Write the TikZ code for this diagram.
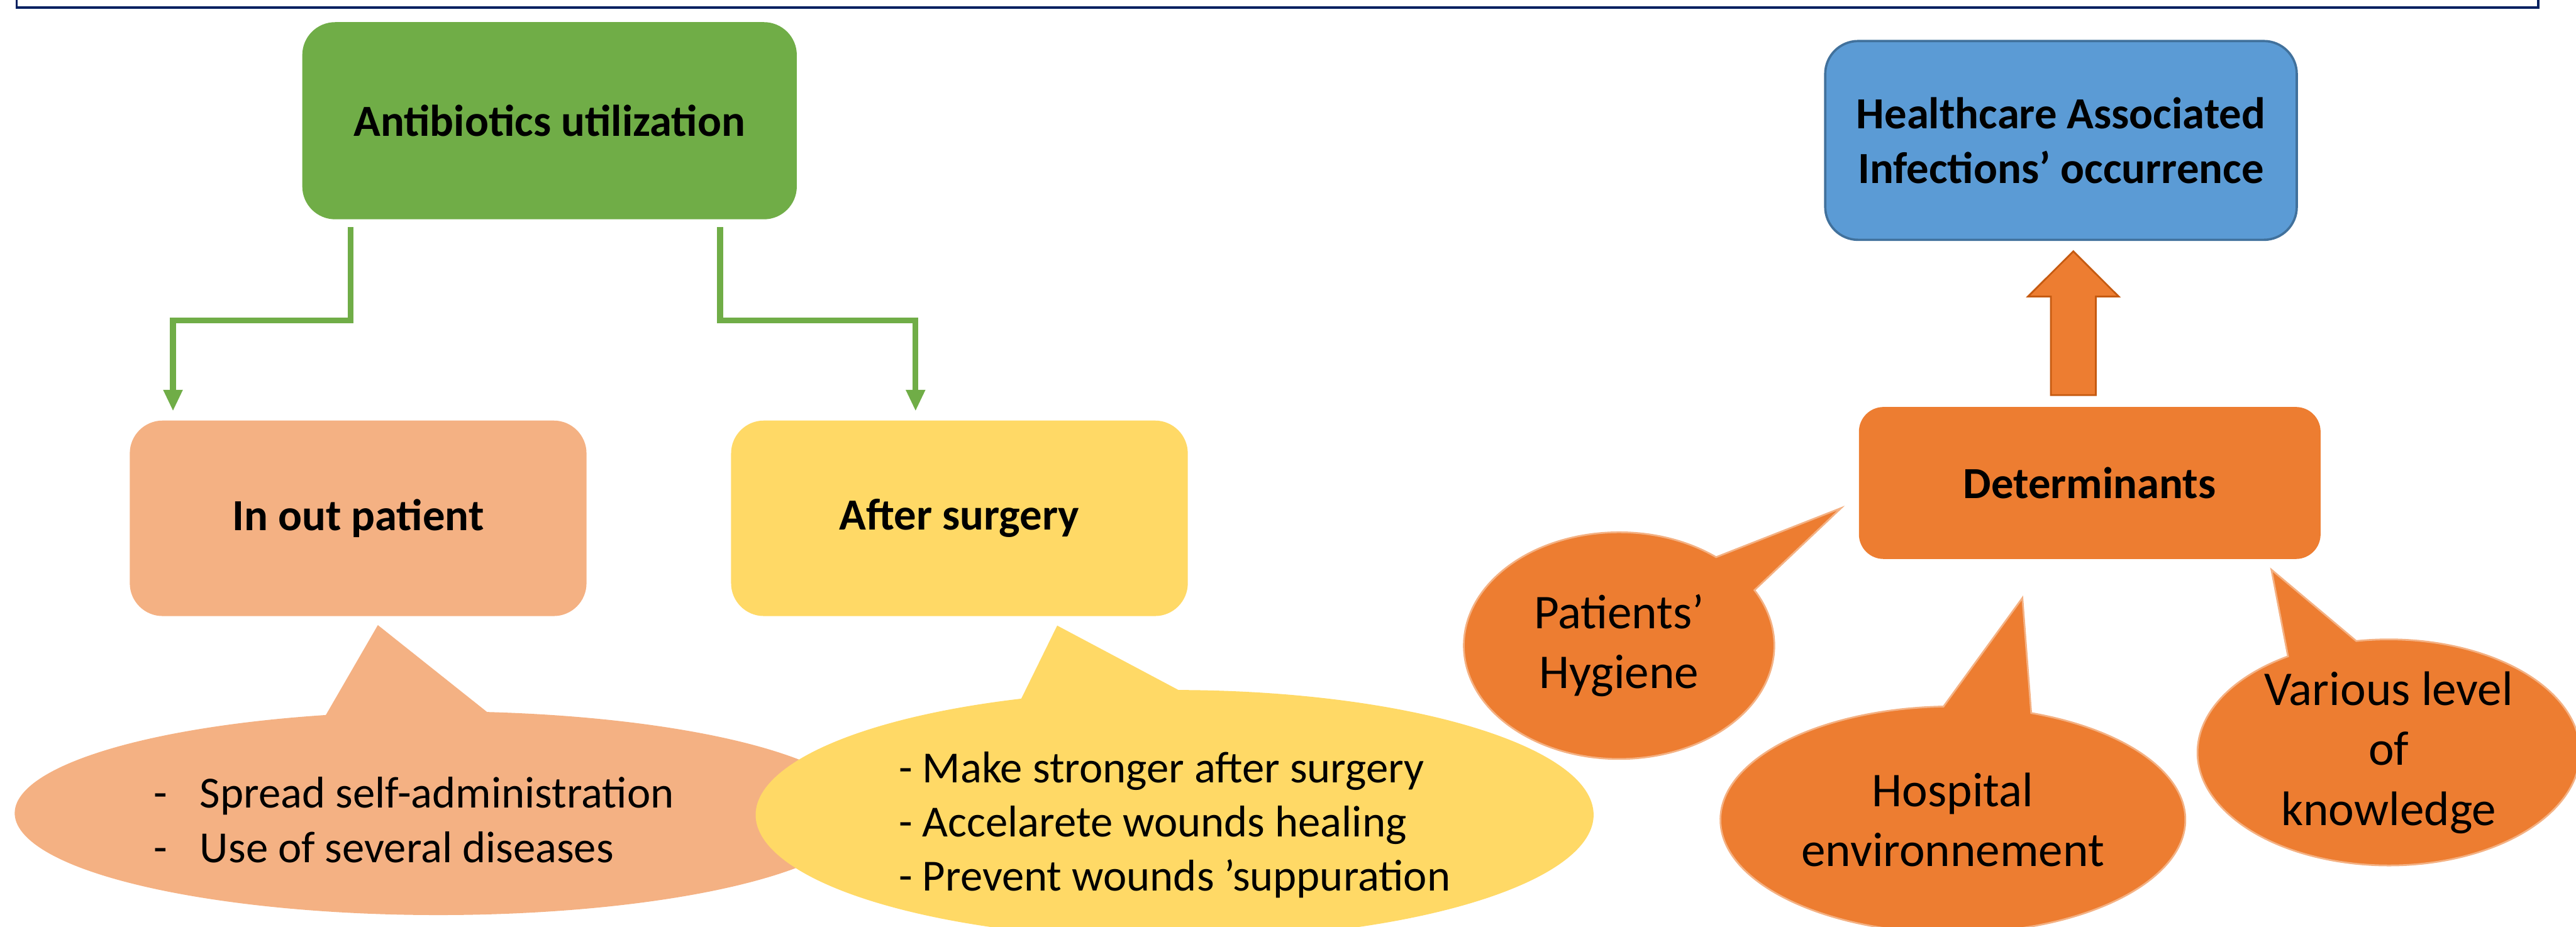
\documentclass[tikz,border=0pt]{standalone}
\usepackage{fontspec}
\setmainfont{Carlito}
\usetikzlibrary{arrows.meta, shapes.callouts, calc}
\definecolor{hgreen}{HTML}{70AD47}
\definecolor{hpeach}{HTML}{F4B183}
\definecolor{hyellow}{HTML}{FFD966}
\definecolor{hblue}{HTML}{5B9BD5}
\definecolor{hblueline}{HTML}{41719C}
\definecolor{horange}{HTML}{ED7D31}
\definecolor{horangeline}{HTML}{C55A11}
\definecolor{hnavy}{HTML}{002060}

\begin{document}
\begin{tikzpicture}[
  every node/.style={font=\fontsize{7.7}{9.4}\selectfont, align=center, text=black},
  box/.style={rectangle, rounded corners=0.2cm, minimum width=2.78cm, minimum height=1.19cm, inner sep=0pt},
  bubble/.style={ellipse callout, callout pointer arc=22, inner sep=0pt, outer sep=0pt},
  detbubble/.style={bubble, fill=horange, draw=hpeach, line width=0.3pt, inner ysep=-2mm, font=\fontsize{8.4}{10.4}\selectfont},
  flow/.style={hgreen, line width=1pt, -{Triangle[length=1.3mm, width=1.1mm]}},
]
\useasboundingbox (0,0) rectangle (15.68,-5.64);

% Frame above
\draw[hnavy, line width=0.35pt] (0.10,0) -- (0.10,-0.046) -- (15.45,-0.046) -- (15.45,0);

% Antibiotics side
\node[box, fill=hgreen, minimum width=3.01cm, minimum height=1.20cm] (util) at (3.345,-0.735) {\textbf{Antibiotics utilization}};
\node[box, fill=hpeach] (inpat) at (2.18,-3.155) {\textbf{In out patient}};
\node[box, fill=hyellow] (aft) at (5.84,-3.155) {\textbf{After surgery}};

\draw[flow] ([xshift=0.30cm, yshift=-0.04cm]util.south west) -- ++(0,-0.57) -| ([xshift=0.27cm, yshift=0.05cm]inpat.north west);
\draw[flow] ([xshift=2.55cm, yshift=-0.04cm]util.south west) -- ++(0,-0.57) -| ([xshift=1.13cm, yshift=0.05cm]aft.north west);

% Callouts under the boxes
\node[bubble, fill=hpeach, minimum width=5.16cm, minimum height=1.24cm, align=left,
  callout absolute pointer={(2.30,-3.805)}] (inpatc) at (2.67,-4.95)
  {\rule{0pt}{0.27cm}\makebox[0.28cm][l]{-}Spread self-administration\hspace*{0.3cm}\\\makebox[0.28cm][l]{-}Use of several diseases};
\node[bubble, fill=hyellow, minimum width=5.10cm, minimum height=1.52cm, align=left,
  callout absolute pointer={(6.435,-3.808)}] (aftc) at (7.15,-4.96)
  {\rule{0pt}{0.31cm}- Make stronger after surgery\\- Accelarete wounds healing\\- Prevent wounds ’suppuration};

% Infections side
\node[box, fill=hblue, draw=hblueline, line width=0.4pt, minimum width=2.87cm, minimum height=1.21cm] (hai) at (12.545,-0.855)
  {\textbf{Healthcare Associated}\\\textbf{Infections’ occurrence}};
\node[box, fill=horange, rounded corners=0.15cm, minimum width=2.81cm, minimum height=0.925cm] (det) at (12.72,-2.94) {\textbf{Determinants}};

% Block arrow
\draw[fill=horange, draw=horangeline, line width=0.3pt]
  (12.483,-2.405) -- (12.483,-1.805) -- (12.344,-1.805) -- (12.62,-1.53)
  -- (12.896,-1.805) -- (12.757,-1.805) -- (12.757,-2.405) -- cycle;

% Determinants
\node[detbubble, minimum width=1.89cm, minimum height=1.38cm,
  callout absolute pointer={(11.206,-3.093)}] (hyg) at (9.855,-3.93) {Patients’\\Hygiene};
\node[detbubble, minimum width=2.83cm, minimum height=1.38cm,
  callout absolute pointer={(12.31,-3.64)}] (env) at (11.887,-4.99) {Hospital\\environnement};
\node[detbubble, minimum width=2.328cm, minimum height=1.376cm,
  callout absolute pointer={(13.826,-3.468)}] (know) at (14.54,-4.58) {Various level\\of\\knowledge};

\end{tikzpicture}
\end{document}
